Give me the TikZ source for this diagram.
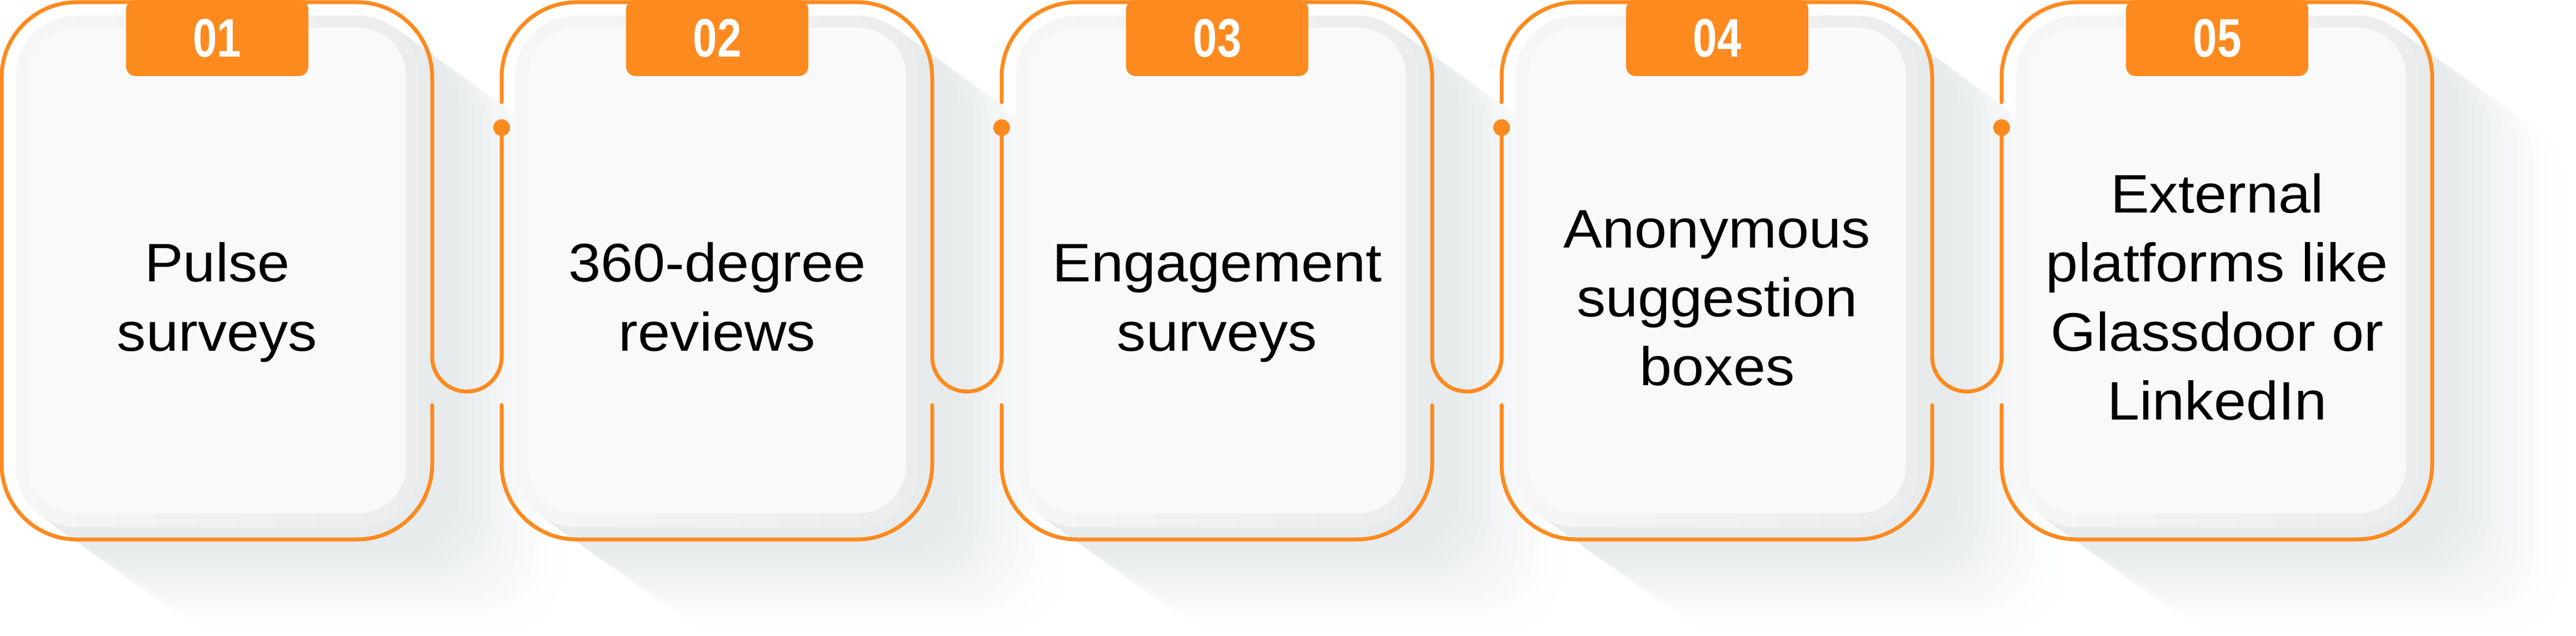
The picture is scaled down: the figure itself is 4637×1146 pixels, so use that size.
\documentclass[tikz,border=0pt]{standalone}
\usepackage{fontspec}
\newfontfamily\bodyfont{Liberation Sans}[FakeStretch=1.07]
\newfontfamily\badgefont{Liberation Sans}[FakeStretch=0.8]
\definecolor{brand}{RGB}{253,138,30}
\definecolor{shc}{RGB}{231,235,236}
\definecolor{ringL}{RGB}{246,246,246}
\definecolor{ringR}{RGB}{236,236,236}
\definecolor{innerc}{RGB}{249,249,249}
\begin{document}
\begin{tikzpicture}[x=0.01cm,y=0.01cm,
 outline/.style={draw=brand,line width=0.07cm,line cap=round,rounded corners=1.35cm},
 wire/.style={draw=brand,line width=0.07cm,line cap=round},
 badgebox/.style={fill=brand,rounded corners=0.17cm},
 steplabel/.style={font=\bodyfont\fontsize{27.8pt}{35pt}\selectfont,text=black,anchor=base,inner sep=0pt},
 numlabel/.style={font=\badgefont\bfseries\fontsize{27.8pt}{30pt}\selectfont,text=white,anchor=base,inner sep=0pt}]

\fill[white] (0,0) rectangle (4637,-1146);
\useasboundingbox (0,0) rectangle (4637,-1146);

% long shadows
\foreach \i in {0,...,4}{
  \pgfmathsetmacro\ox{900*\i}
  \foreach \k in {0,...,14}{
    \pgfmathsetmacro\t{1-0.72*\k/14}
    \pgfmathtruncatemacro\p{100*((\k+1)/15)^1.3}
    \fill[shc!\p!white, rounded corners=1.1cm] ({\ox+28+260*\t},{-28-187*\t}) rectangle ({\ox+754+260*\t},{-950-187*\t});
    \fill[shc!\p!white] ({\ox+708.2},-48.7) -- ({\ox+708.2+260*\t},{-48.7-187*\t}) -- ({\ox+73.8+260*\t},{-929.3-187*\t}) -- ({\ox+73.8},-929.3) -- cycle;
  }
}

% card bodies
\foreach \i in {0,...,4}{
  \pgfmathsetmacro\ox{900*\i}
  \shade[left color=ringL,right color=ringR,rounded corners=1.1cm] ({\ox+28},-28) rectangle ({\ox+754},-950);
  \fill[innerc,rounded corners=0.87cm] ({\ox+50},-50) rectangle ({\ox+731},-925);
}

% outlines
\draw[outline] (778,-730) -- (778,-972) -- (3,-972) -- (3,-4) -- (778,-4) -- (778,-643);
\draw[outline] (903,-184) -- (903,-4) -- (1678,-4) -- (1678,-643);
\draw[outline] (903,-730) -- (903,-972) -- (1678,-972) -- (1678,-730);
\draw[outline] (1803,-184) -- (1803,-4) -- (2578,-4) -- (2578,-643);
\draw[outline] (1803,-730) -- (1803,-972) -- (2578,-972) -- (2578,-730);
\draw[outline] (2703,-184) -- (2703,-4) -- (3478,-4) -- (3478,-643);
\draw[outline] (2703,-730) -- (2703,-972) -- (3478,-972) -- (3478,-730);
\draw[outline] (3603,-184) -- (3603,-4) -- (4378,-4) -- (4378,-972) -- (3603,-972) -- (3603,-730);

% connectors
\coordinate (r1) at (778,-643);  \coordinate (d1) at (903,-230);
\coordinate (r2) at (1678,-643); \coordinate (d2) at (1803,-230);
\coordinate (r3) at (2578,-643); \coordinate (d3) at (2703,-230);
\coordinate (r4) at (3478,-643); \coordinate (d4) at (3603,-230);
\foreach \j in {1,...,4}{
  \draw[wire] (r\j) arc[start angle=180,end angle=360,radius=62.5] -- (d\j);
  \fill[brand] (d\j) circle[radius=15];
}

% badges
\foreach \i/\n in {0/01,1/02,2/03,3/04,4/05}{
  \pgfmathsetmacro\ox{900*\i}
  \fill[badgebox] ({\ox+227},0) rectangle ({\ox+555},-137);
  \node[numlabel] (num\i) at ({\ox+391},-103) {\n};
}

% texts
\node[steplabel] (t1a) at (391,-508) {Pulse};
\node[steplabel] (t1b) at (391,-632) {surveys};
\node[steplabel] (t2a) at (1291,-508) {360-degree};
\node[steplabel] (t2b) at (1291,-632) {reviews};
\node[steplabel] (t3a) at (2191,-508) {Engagement};
\node[steplabel] (t3b) at (2191,-632) {surveys};
\node[steplabel] (t4a) at (3091,-446) {Anonymous};
\node[steplabel] (t4b) at (3091,-570) {suggestion};
\node[steplabel] (t4c) at (3091,-694) {boxes};
\node[steplabel] (t5a) at (3991,-384) {External};
\node[steplabel] (t5b) at (3991,-508) {platforms like};
\node[steplabel] (t5c) at (3991,-632) {Glassdoor or};
\node[steplabel] (t5d) at (3991,-756) {LinkedIn};
\end{tikzpicture}
\end{document}
